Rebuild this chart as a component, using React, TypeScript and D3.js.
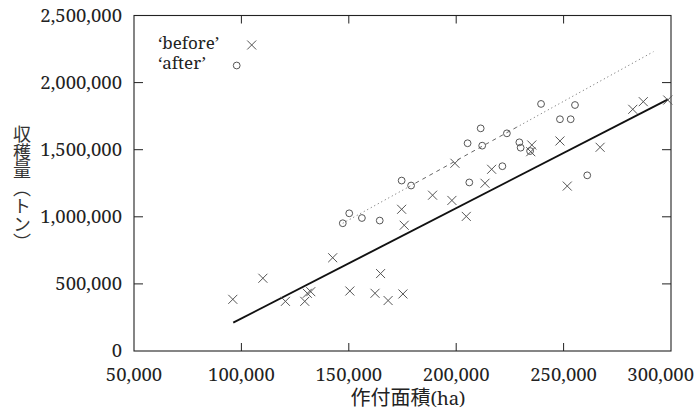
import React from 'react';
import * as d3 from 'd3';

// 作付面積(ha) / 収穫量(トン)
const beforeArea = [96000, 110000, 120500, 129500, 130700, 132300, 142500, 150500, 162200, 164800, 168300, 175200, 174600, 175800, 189000, 198000, 199400, 204700, 213400, 216500, 235200, 234700, 248300, 251700, 267000, 282200, 287100, 298500];
const beforeYield = [385000, 542000, 370000, 370000, 430000, 442000, 695000, 447000, 430000, 577000, 376000, 425000, 1056000, 937000, 1161000, 1122000, 1399000, 1003000, 1250000, 1354000, 1535000, 1485000, 1565000, 1229000, 1518000, 1801000, 1858000, 1870000];

const afterArea = [147200, 150200, 156100, 164400, 174600, 179000, 206100, 205300, 211400, 212100, 221500, 223600, 229400, 230000, 234400, 239500, 248300, 253300, 255300, 261000];
const afterYield = [952000, 1026000, 991000, 972000, 1270000, 1233000, 1256000, 1548000, 1659000, 1530000, 1377000, 1622000, 1555000, 1515000, 1490000, 1841000, 1727000, 1727000, 1833000, 1309000];

// fitted lines, endpoints
const beforeFitX = [96200, 298600];
const beforeFitY = [211000, 1875000];
const afterFitX = [147200, 291800];
const afterFitY = [952000, 2230000];
const afterBreaks = [181000, 228000]; // dotted | dashed | dotted

const xTicks = [50000, 100000, 150000, 200000, 250000, 300000];
const yTicks = [0, 500000, 1000000, 1500000, 2000000, 2500000];

const W = 695;
const H = 416;
const left = 134;
const right = 671;
const top = 15.5;
const bottom = 351;

const serif = "'Noto Serif', 'Liberation Serif', serif";
const cjk = "'Noto Sans CJK JP', sans-serif";
const markColor = '#555';
const ink = '#222';

const x = d3.scaleLinear().domain([50000, 300000]).range([left, right]);
const y = d3.scaleLinear().domain([0, 2500000]).range([bottom, top]);
const fmt = d3.format(',');

const tickStyle = { fontFamily: serif, fontSize: '18.5px' };
const legendStyle = { fontFamily: serif, fontSize: '17px' };

const Cross = ({ cx, cy }: { cx: number; cy: number }) => (
  <path d={`M${cx - 4.5},${cy - 4.5}L${cx + 4.5},${cy + 4.5}M${cx - 4.5},${cy + 4.5}L${cx + 4.5},${cy - 4.5}`} stroke={markColor} strokeWidth={1} fill="none" />
);

const Ring = ({ cx, cy }: { cx: number; cy: number }) => (
  <circle cx={cx} cy={cy} r={3.4} stroke={markColor} strokeWidth={1} fill="none" />
);

export default function App() {
  const line = d3.line<[number, number]>().x((d) => x(d[0])).y((d) => y(d[1]));
  const afterAt = d3.scaleLinear().domain(afterFitX).range(afterFitY);
  const segA: [number, number][] = [[afterFitX[0], afterFitY[0]], [afterBreaks[0], afterAt(afterBreaks[0])]];
  const segB: [number, number][] = [[afterBreaks[0], afterAt(afterBreaks[0])], [afterBreaks[1], afterAt(afterBreaks[1])]];
  const segC: [number, number][] = [[afterBreaks[1], afterAt(afterBreaks[1])], [afterFitX[1], afterFitY[1]]];
  const beforeLine: [number, number][] = beforeFitX.map((v, i) => [v, beforeFitY[i]]);

  return (
    <svg width={W} height={H} style={{ position: 'absolute', left: 0, top: 0, background: '#fff' }}>
      {/* frame */}
      <rect x={left} y={top} width={right - left} height={bottom - top} fill="none" stroke={ink} strokeWidth={1.1} />
      {xTicks.slice(1, -1).map((t) => (
        <g key={'xt' + t} stroke={ink} strokeWidth={1}>
          <line x1={x(t)} x2={x(t)} y1={bottom} y2={bottom - 8} />
          <line x1={x(t)} x2={x(t)} y1={top} y2={top + 8} />
        </g>
      ))}
      {yTicks.slice(1, -1).map((t) => (
        <g key={'yt' + t} stroke={ink} strokeWidth={1}>
          <line x1={left} x2={left + 9} y1={y(t)} y2={y(t)} />
          <line x1={right} x2={right - 9} y1={y(t)} y2={y(t)} />
        </g>
      ))}
      {xTicks.map((t, i) => {
        const last = i === xTicks.length - 1;
        return (
          <text key={'xl' + t} x={last ? W - 1 : x(t)} y={381} textAnchor={last ? 'end' : 'middle'} style={tickStyle} fill={ink}>
            {fmt(t)}
          </text>
        );
      })}
      {yTicks.map((t) => (
        <text key={'yl' + t} x={122} y={y(t)} dy="0.35em" textAnchor="end" style={tickStyle} fill={ink}>
          {fmt(t)}
        </text>
      ))}

      {/* axis titles */}
      <text x={408} y={405} textAnchor="middle" fill={ink} style={{ fontSize: '20px' }}>
        <tspan style={{ fontFamily: cjk }}>作付面積</tspan>
        <tspan style={{ fontFamily: serif, fontSize: '18.5px' }}>(ha)</tspan>
      </text>
      <text x={22} y={188} textAnchor="middle" fill="#333" style={{ fontFamily: cjk, fontSize: '18px', writingMode: 'vertical-rl' }}>
        収穫量（トン）
      </text>

      {/* fit lines */}
      <path d={line(beforeLine) || ''} stroke="#111" strokeWidth={1.9} fill="none" />
      <path d={line(segA) || ''} stroke="#666" strokeWidth={1} strokeDasharray="1,3" fill="none" />
      <path d={line(segB) || ''} stroke="#666" strokeWidth={1} strokeDasharray="4,4" fill="none" />
      <path d={line(segC) || ''} stroke="#666" strokeWidth={1} strokeDasharray="1,3" fill="none" />

      {/* points */}
      {beforeArea.map((a, i) => (
        <Cross key={'b' + i} cx={x(a)} cy={y(beforeYield[i])} />
      ))}
      {afterArea.map((a, i) => (
        <Ring key={'a' + i} cx={x(a)} cy={y(afterYield[i])} />
      ))}

      {/* legend */}
      <text x={158} y={48.5} style={legendStyle} fill={ink}>‘before’</text>
      <text x={158} y={69} style={legendStyle} fill={ink}>‘after’</text>
      <Cross cx={251.7} cy={45} />
      <Ring cx={236.7} cy={65.5} />
    </svg>
  );
}
